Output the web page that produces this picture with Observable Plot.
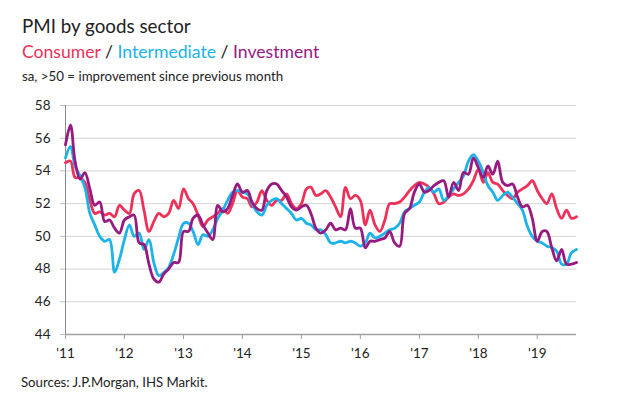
<!DOCTYPE html>
<html>
<head>
<meta charset="utf-8">
<script src="https://cdn.jsdelivr.net/npm/d3@7"></script>
<script src="https://cdn.jsdelivr.net/npm/@observablehq/plot@0.6"></script>
<style>
  html, body { margin: 0; padding: 0; background: #fff; }
  body { width: 628px; height: 399px; position: relative; overflow: hidden; font-family: Lato, "Noto Sans", sans-serif; color: #222; }
  .t { position: absolute; left: 22px; white-space: nowrap; }
  #title { top: 16px; font-size: 18.8px; line-height: 19px; }
  #sub { top: 43px; font-size: 17.6px; line-height: 18px; }
  #note { top: 70px; font-size: 13.3px; line-height: 13px; }
  #cap { top: 376px; left: 21px; font-size: 13.2px; line-height: 13px; }
  #chart { position: absolute; left: 0; top: 90px; }
</style>
</head>
<body>
<div class="t" id="title">PMI by goods sector</div>
<div class="t" id="sub"><span style="color:#ee3159">Consumer</span> / <span style="color:#1bb3e9">Intermediate</span> / <span style="color:#961a80">Investment</span></div>
<div class="t" id="note">sa, &gt;50 = improvement since previous month</div>
<div id="chart"></div>
<div class="t" id="cap">Sources: J.P.Morgan, IHS Markit.</div>
<script>
// Monthly series, Jan 2011 .. Sep 2019
const startYear = 2011;
const consumer = [
  54.5, 54.6, 53.6, 53.6, 53.3, 52.2, 51.4, 51.5, 51.3, 51.4, 51.2, 51.9,
  51.6, 51.4, 52.6, 52.8, 51.6, 50.3, 50.9, 51.4, 51.2, 51.4, 52.2, 51.7,
  52.9, 52.3, 52.0, 51.3, 50.6, 51.0, 51.2, 51.4, 51.7, 51.4, 52.0, 52.8,
  52.4, 52.3, 51.8, 52.1, 52.8, 52.2, 51.9, 52.2, 52.2, 52.6, 52.0, 51.7,
  52.0, 52.9, 53.0, 52.5, 52.6, 52.8, 52.4, 51.8, 51.2, 53.0, 52.3, 52.5,
  52.2, 50.7, 51.6, 50.7, 50.3, 51.0, 52.0, 52.0, 52.1, 52.4, 52.8, 53.1,
  53.3, 53.2, 53.0, 52.6, 52.0, 52.1, 52.4, 52.6, 52.5, 52.6, 52.9, 53.4,
  54.1, 53.3, 53.9, 53.3, 53.2, 52.8, 52.5, 52.3, 52.7, 52.9, 53.1, 53.4,
  52.8, 52.3, 52.0, 52.6, 51.7, 51.1, 51.6, 51.1, 51.2
];
const intermediate = [
  54.8, 55.5, 54.3, 53.7, 53.0, 51.4, 50.7, 50.0, 49.7, 49.8, 47.8, 48.6,
  49.8, 50.7, 50.0, 50.2, 49.2, 49.8, 48.4, 47.6, 47.8, 48.1, 48.9, 49.9,
  50.8, 50.8, 50.3, 49.5, 50.1, 50.0, 50.4, 51.1, 51.6, 52.2, 52.7, 52.8,
  52.7, 52.6, 52.0, 51.5, 51.3, 51.9, 52.2, 52.3, 52.0, 51.7, 51.4, 51.0,
  51.1, 50.8, 50.7, 50.4, 50.4, 50.1, 49.6, 49.6, 49.7, 49.6, 49.7, 49.6,
  49.4, 49.6, 50.2, 49.9, 50.0, 50.2, 50.4, 50.5, 50.8, 51.5, 51.7, 51.9,
  52.1, 52.7, 53.0, 52.7, 52.9, 52.2, 52.5, 52.9, 53.3, 53.7, 54.6, 55.0,
  54.6, 53.9, 53.1, 52.7, 52.2, 52.5, 52.7, 52.4, 52.0, 51.6, 50.6, 50.0,
  49.7, 49.6, 49.4, 49.3, 49.1, 48.3, 48.3, 49.0, 49.2
];
const investment = [
  55.6, 56.8, 54.6, 53.5, 53.9, 52.9, 51.9, 52.1, 50.9, 51.0, 50.5, 50.2,
  51.0, 51.2, 51.3, 49.6, 49.5, 48.3, 47.4, 47.2, 47.7, 48.0, 48.4, 48.4,
  50.3, 50.3, 51.1, 51.3, 50.7, 50.2, 49.8, 51.9, 51.5, 51.7, 52.5, 53.2,
  52.7, 52.8, 52.1, 51.7, 51.6, 52.8, 53.2, 53.2, 52.8, 52.4, 51.8, 51.6,
  51.8, 51.9, 51.4, 50.5, 50.2, 50.4, 50.8, 50.4, 50.5, 50.4, 51.7, 50.5,
  50.5, 49.3, 49.7, 49.7, 49.8, 49.9, 50.3, 49.6, 49.4, 51.4, 51.7, 52.7,
  53.2, 52.7, 52.8, 53.1, 53.3, 53.4, 52.4, 53.3, 52.8, 53.9, 53.8, 54.8,
  54.2, 53.6, 54.3, 53.8, 54.6, 53.3, 53.1, 53.2, 52.4, 51.8, 51.9, 51.1,
  49.7, 50.3, 50.3, 49.3, 48.5, 49.2, 48.3, 48.3, 48.4
];
const yearTicks = [2011, 2012, 2013, 2014, 2015, 2016, 2017, 2018, 2019];
const yTicks = [44, 46, 48, 50, 52, 54, 56, 58];

const seriesDefs = [
  {name: "Consumer", values: consumer, color: "#ee3159"},
  {name: "Intermediate", values: intermediate, color: "#1bb3e9"},
  {name: "Investment", values: investment, color: "#961a80"}
];
const monthDate = i => new Date(Date.UTC(startYear, i, 1));
const rows = seriesDefs.flatMap(s => s.values.map((v, i) => ({series: s.name, date: monthDate(i), value: v})));
const tickDates = yearTicks.map(y => new Date(Date.UTC(y, 0, 1)));

const chart = Plot.plot({
  width: 628,
  height: 285,
  marginTop: 15,
  marginLeft: 65,
  marginRight: 52,
  marginBottom: 41,
  style: {fontFamily: "Lato, 'Noto Sans', sans-serif", fontSize: "13px", color: "#222", background: "transparent"},
  x: {type: "utc", domain: [monthDate(0), monthDate(consumer.length - 1)]},
  y: {domain: [44, 58]},
  color: {domain: seriesDefs.map(s => s.name), range: seriesDefs.map(s => s.color)},
  marks: [
    Plot.gridY(yTicks, {stroke: "#d4d4d4", strokeOpacity: 1, strokeWidth: 1}),
    Plot.axisY(yTicks, {tickSize: 5, tickPadding: 10, stroke: "#bdbdbd", fill: "#222", fontSize: 13.5, label: null}),
    Plot.ruleX([monthDate(0)], {stroke: "#8a8a8a", strokeWidth: 1}),
    Plot.ruleY([44], {stroke: "#a0a0a0", strokeWidth: 1.5}),
    Plot.axisX(tickDates, {tickSize: 5, tickPadding: 9, stroke: "#a0a0a0", fill: "#222", fontSize: 13.5, label: null,
      tickFormat: d => "'" + String(d.getUTCFullYear()).slice(2)}),
    Plot.lineY(rows, {x: "date", y: "value", z: "series", stroke: "series", strokeWidth: 2.8, curve: "catmull-rom"})
  ]
});
document.getElementById("chart").appendChild(chart);
</script>
</body>
</html>
